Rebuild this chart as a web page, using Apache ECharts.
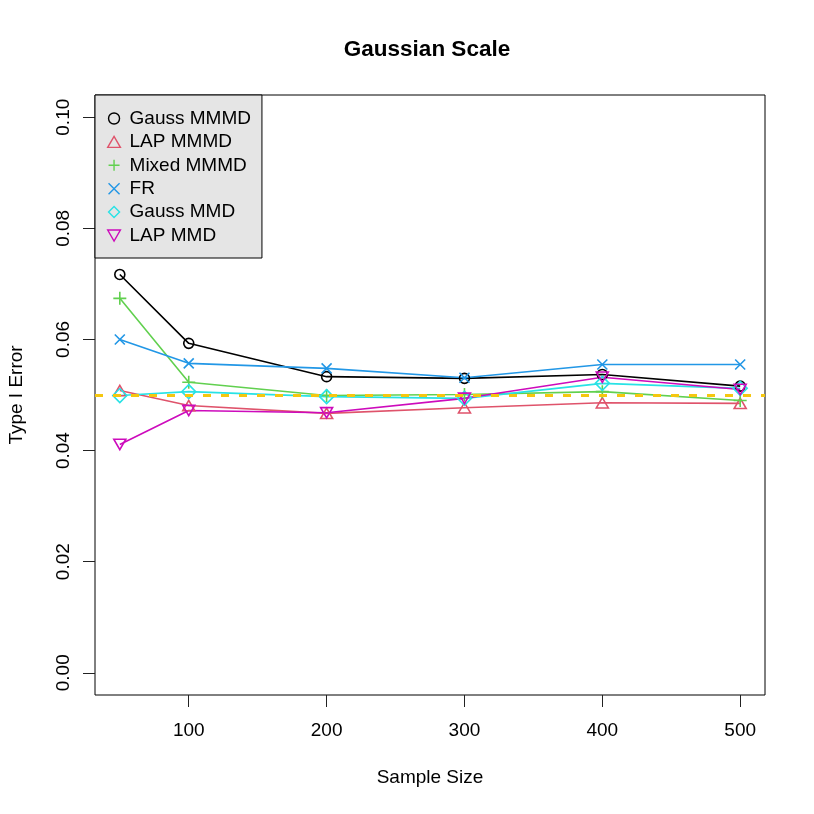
<!DOCTYPE html>
<html>
<head>
<meta charset="utf-8">
<script src="https://cdn.jsdelivr.net/npm/echarts@6/dist/echarts.min.js"></script>
<style>
  html, body { margin: 0; padding: 0; background: #fff; }
  #chart { width: 814px; height: 814px; }
</style>
</head>
<body>
<div id="chart"></div>
<script>
// sample sizes on the x axis
const sampleSizes = [50, 100, 200, 300, 400, 500]
const xTicks = [100, 200, 300, 400, 500]
const yTicks = [0, 0.02, 0.04, 0.06, 0.08, 0.1]

// type I error per method
const gaussMMMD = [0.0717, 0.0593, 0.0533, 0.0530, 0.0537, 0.0516]
const lapMMMD = [0.0508, 0.0481, 0.0467, 0.0477, 0.0486, 0.0485]
const mixedMMMD = [0.0674, 0.0523, 0.0499, 0.0501, 0.0506, 0.0490]
const fr = [0.0600, 0.0557, 0.0548, 0.0531, 0.0555, 0.0555]
const gaussMMD = [0.0499, 0.0506, 0.0497, 0.0494, 0.0521, 0.0512]
const lapMMD = [0.0411, 0.0472, 0.0468, 0.0494, 0.0532, 0.0510]
const nominal = 0.05

const font = 'Liberation Sans, Arial, Helvetica, sans-serif'

const methods = [
  { name: 'Gauss MMMD', data: gaussMMMD, color: '#000000', symbol: 'circle', size: 10 },
  { name: 'LAP MMMD', data: lapMMMD, color: '#DF536B', symbol: 'path://M5,0L10,8.66L0,8.66Z', size: 12 },
  { name: 'Mixed MMMD', data: mixedMMMD, color: '#61D04F', symbol: 'path://M0,5L10,5M5,0L5,10', size: 13 },
  { name: 'FR', data: fr, color: '#2297E6', symbol: 'path://M0,0L10,10M10,0L0,10', size: 10 },
  { name: 'Gauss MMD', data: gaussMMD, color: '#28E2E5', symbol: 'path://M5,0L10,5L5,10L0,5Z', size: 14 },
  { name: 'LAP MMD', data: lapMMD, color: '#CD0BBC', symbol: 'path://M0,0L10,0L5,8.66Z', size: 12 }
]

const series = methods.map(m => ({
  name: m.name,
  type: 'line',
  data: sampleSizes.map((s, i) => [s, m.data[i]]),
  symbol: m.symbol,
  symbolSize: m.size,
  symbolKeepAspect: true,
  showAllSymbol: true,
  lineStyle: { color: m.color, width: 1.6 },
  itemStyle: { color: 'rgba(0,0,0,0)', borderColor: m.color, borderWidth: 1.6 },
  emphasis: { disabled: true },
  animation: false
}))

series.push({
  name: 'nominal',
  type: 'line',
  data: [],
  markLine: {
    silent: true,
    symbol: 'none',
    label: { show: false },
    lineStyle: { color: '#F5C710', width: 3, type: [8, 10] },
    data: [{ yAxis: nominal }]
  },
  animation: false
})

const chart = echarts.init(document.getElementById('chart'))
chart.setOption({
  animation: false,
  title: {
    text: 'Gaussian Scale',
    left: 422,
    top: 33,
    textAlign: 'center',
    textStyle: { fontFamily: font, fontSize: 22.5, fontWeight: 'bold', color: '#000' }
  },
  legend: {
    left: 95,
    top: 95,
    orient: 'vertical',
    data: methods.map(m => ({
      name: m.name,
      icon: m.symbol,
      itemStyle: { color: 'rgba(0,0,0,0)', borderColor: m.color, borderWidth: 1.4 }
    })),
    itemWidth: 21,
    itemHeight: 11,
    itemGap: 4.4,
    padding: [14, 11, 13, 12],
    backgroundColor: '#E5E5E5',
    borderColor: '#000',
    borderWidth: 1,
    borderRadius: 0,
    selectedMode: false,
    textStyle: { fontFamily: font, fontSize: 19, color: '#000' }
  },
  grid: {
    left: 95,
    right: 49,
    top: 95,
    bottom: 119,
    outerBoundsMode: 'none',
    show: true,
    borderColor: '#000',
    borderWidth: 1,
    backgroundColor: 'transparent'
  },
  xAxis: {
    type: 'value',
    min: 32,
    max: 518,
    name: 'Sample Size',
    nameLocation: 'middle',
    nameGap: 73,
    nameTextStyle: { fontFamily: font, fontSize: 19, color: '#000' },
    axisLine: { show: false, onZero: false },
    splitLine: { show: false },
    axisTick: { show: true, length: 12, customValues: xTicks, lineStyle: { color: '#222' } },
    axisLabel: { customValues: xTicks, margin: 26, fontFamily: font, fontSize: 19, color: '#000' }
  },
  yAxis: {
    type: 'value',
    min: -0.004,
    max: 0.104,
    name: 'Type I Error',
    nameLocation: 'middle',
    nameGap: 69,
    nameTextStyle: { fontFamily: font, fontSize: 19, color: '#000' },
    axisLine: { show: false, onZero: false },
    splitLine: { show: false },
    axisTick: { show: true, length: 12, customValues: yTicks, lineStyle: { color: '#222' } },
    axisLabel: {
      customValues: yTicks,
      rotate: 90,
      margin: 22,
      fontFamily: font,
      fontSize: 19,
      color: '#000',
      formatter: v => v.toFixed(2)
    }
  },
  series: series
})
</script>
</body>
</html>
